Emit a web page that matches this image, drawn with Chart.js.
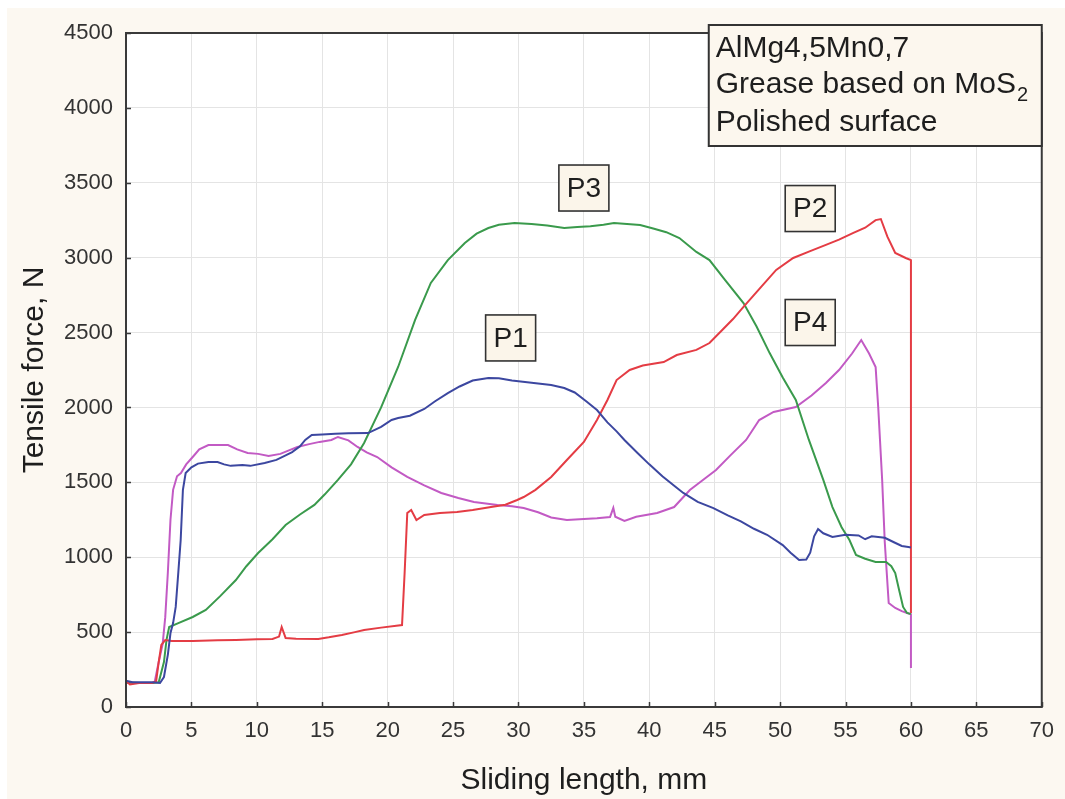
<!DOCTYPE html>
<html><head><meta charset="utf-8">
<script src="https://cdn.jsdelivr.net/npm/chart.js@4"></script>
<style>html,body{margin:0;padding:0;background:#fff;}canvas{display:block;}</style>
</head><body>
<canvas id="c" width="1065" height="799"></canvas>
<script>
// ---- data (Sliding length mm, Tensile force N) ----
const seriesNames = ["P1", "P2", "P3", "P4"];
const p1 = [[0,175],[0.5,165],[1,165],[2,165],[2.6,160],[2.9,200],[3.2,350],[3.4,494],[3.6,560],[3.8,668],[4.0,900],[4.18,1115],[4.35,1450],[4.56,1562],[5,1600],[5.5,1625],[6.3,1636],[7,1635],[7.5,1620],[8,1610],[8.9,1616],[9.5,1610],[10.6,1629],[11.5,1650],[12.2,1680],[12.7,1702],[13.3,1740],[13.7,1783],[14.2,1816],[15,1820],[16,1825],[17,1828],[18.5,1829],[19.5,1870],[20.3,1916],[20.8,1929],[21.7,1945],[22.8,1990],[23.6,2040],[24.6,2096],[25.5,2140],[26.5,2180],[27.7,2197],[28.5,2195],[29.5,2180],[30.5,2170],[31.5,2160],[32.5,2150],[33.5,2130],[34.3,2100],[35.2,2040],[36,1983],[36.8,1900],[37.5,1840],[38.1,1783],[39.1,1696],[40,1620],[41,1540],[42,1470],[42.6,1429],[43.7,1370],[44.9,1328],[46,1280],[47,1240],[48,1190],[49,1150],[50.2,1081],[50.8,1030],[51.45,981],[52,985],[52.3,1030],[52.6,1140],[52.9,1188],[53.3,1160],[54,1135],[55,1150],[56,1145],[56.5,1120],[57,1140],[58,1130],[58.7,1100],[59.3,1075],[59.8,1068],[60,1065]];
const p2 = [[0,175],[0.3,150],[1,160],[2,160],[2.3,170],[2.5,300],[2.7,414],[3.0,447],[3.5,440],[5.1,441],[7,445],[8.4,447],[10,452],[11.2,454],[11.7,470],[11.9,534],[12.2,461],[13,455],[14.7,454],[15.5,465],[16.5,481],[17.5,500],[18.2,514],[19.5,530],[21.1,547],[21.3,900],[21.5,1295],[21.8,1315],[22.2,1248],[22.8,1282],[24,1295],[25.3,1302],[26.5,1315],[27.9,1335],[29,1350],[29.9,1382],[30.4,1402],[31.3,1450],[32.5,1536],[33.7,1649],[35,1770],[36,1916],[36.8,2050],[37.5,2183],[38.5,2250],[39.5,2280],[41.1,2303],[42.1,2350],[43.6,2384],[44.6,2430],[45.5,2510],[46.4,2590],[47.2,2671],[48.5,2800],[49.7,2918],[51,2998],[52.2,3040],[53.5,3085],[54.5,3120],[55.6,3165],[56.5,3200],[57.3,3251],[57.7,3258],[58.2,3140],[58.8,3031],[59.6,2998],[60,2984],[60,628]];
const p3 = [[0,165],[1,160],[2,160],[2.5,165],[2.9,300],[3.1,450],[3.3,534],[4,560],[5.1,601],[6.1,648],[7.2,740],[8.4,848],[9.2,940],[10.1,1028],[11.2,1120],[12.2,1215],[13.3,1285],[14.4,1349],[15.2,1420],[16.2,1516],[17.2,1620],[18.2,1763],[19.5,2000],[20.8,2270],[22.1,2584],[23.3,2831],[24.6,2984],[25.9,3098],[26.8,3160],[27.7,3198],[28.5,3220],[29.7,3231],[31,3225],[32.2,3215],[33.5,3198],[34.5,3205],[35.5,3210],[36.5,3220],[37.3,3231],[38.3,3225],[39.3,3218],[40.3,3195],[41.3,3170],[42.3,3131],[43.6,3038],[44.6,2984],[45.8,2850],[47.2,2697],[48.2,2540],[49.2,2363],[50.2,2200],[51.2,2050],[52.2,1783],[53.3,1516],[54,1335],[54.7,1200],[55.3,1115],[55.8,1015],[56.5,990],[57.3,968],[58.1,968],[58.5,940],[58.8,894],[59.1,780],[59.4,668],[59.7,628],[60,620]];
const p4 = [[0,160],[1,160],[2,160],[2.2,170],[2.5,300],[2.8,420],[3.0,600],[3.2,900],[3.4,1250],[3.6,1450],[3.9,1540],[4.2,1562],[4.6,1620],[5.1,1669],[5.6,1720],[6.3,1749],[7,1750],[7.8,1749],[8.5,1720],[9.3,1696],[10.1,1690],[10.9,1676],[11.8,1690],[12.5,1715],[13.1,1736],[14,1755],[14.8,1770],[15.7,1783],[16.2,1803],[17,1780],[17.7,1736],[18.4,1700],[19.2,1669],[20.3,1600],[21.5,1536],[22.8,1480],[24.1,1429],[25.4,1395],[26.6,1369],[28.4,1349],[29.5,1340],[30.4,1328],[31.5,1300],[32.5,1265],[33.7,1248],[35,1255],[36,1260],[37,1268],[37.25,1330],[37.4,1270],[38.1,1242],[39,1270],[40.6,1295],[41.9,1335],[43.1,1449],[44.4,1536],[45.1,1582],[46.2,1680],[47.4,1783],[48.4,1916],[49.5,1970],[51.2,2003],[52.4,2080],[53.5,2163],[54.5,2250],[55.5,2360],[56.2,2450],[56.8,2360],[57.3,2270],[57.5,2000],[57.8,1516],[58.0,1100],[58.3,694],[58.8,661],[59.3,640],[59.7,628],[60,620],[60,260]];
const seriesData = [p1, p2, p3, p4];
const seriesColors = ["#3c47a0", "#e43c44", "#3a9a4c", "#c25ac4"];
// label anchors in data units (x mm, y N)
const labelPos = [[29.4,2464],[52.3,3328],[35.0,3465],[52.3,2567]];
const noteLines = ["AlMg4,5Mn0,7", "Grease based on MoS", "Polished surface"];
const noteSub = "2";
const xTitle = "Sliding length, mm";
const yTitle = "Tensile force, N";

const FONT = "'Liberation Sans', Arial, sans-serif";

const deco = {
  id: 'deco',
  beforeDraw(chart) {
    const {ctx, chartArea: a} = chart;
    ctx.save();
    ctx.fillStyle = '#ffffff';
    ctx.fillRect(0, 0, chart.width, chart.height);
    ctx.fillStyle = '#fcf8f1';
    ctx.fillRect(7, 8, chart.width - 7, chart.height - 8);
    ctx.fillStyle = '#ffffff';
    ctx.fillRect(a.left, a.top, a.right - a.left, a.bottom - a.top);
    ctx.restore();
  },
  afterDatasetsDraw(chart) {
    const {ctx, chartArea: a, scales} = chart;
    const xs = scales.x, ys = scales.y;
    ctx.save();
    // frame
    ctx.strokeStyle = '#3a3a3a';
    ctx.lineWidth = 2;
    ctx.strokeRect(a.left, a.top, a.right - a.left, a.bottom - a.top);
    // inward ticks
    ctx.lineWidth = 1.5;
    ctx.beginPath();
    xs.ticks.forEach(t => {
      const px = Math.round(xs.getPixelForValue(t.value)) + 0.5;
      ctx.moveTo(px, a.bottom); ctx.lineTo(px, a.bottom - 5);
    });
    ys.ticks.forEach(t => {
      const py = Math.round(ys.getPixelForValue(t.value)) + 0.5;
      ctx.moveTo(a.left, py); ctx.lineTo(a.left + 5, py);
    });
    ctx.stroke();
    // series labels
    ctx.font = '28px ' + FONT;
    ctx.textAlign = 'center';
    ctx.textBaseline = 'middle';
    seriesNames.forEach((n, i) => {
      const cx = xs.getPixelForValue(labelPos[i][0]);
      const cy = ys.getPixelForValue(labelPos[i][1]);
      const w = 50, h = 46;
      ctx.fillStyle = '#fbf5ea';
      ctx.fillRect(cx - w / 2, cy - h / 2, w, h);
      ctx.strokeStyle = '#333';
      ctx.lineWidth = 1.6;
      ctx.strokeRect(cx - w / 2, cy - h / 2, w, h);
      ctx.fillStyle = '#1e1e1e';
      ctx.fillText(n, cx, cy + 1);
    });
    // note box
    const bw = 333, bh = 121;
    const bx = a.right - bw, by = a.top - 8;
    ctx.fillStyle = '#fcf7ee';
    ctx.fillRect(bx, by, bw, bh);
    ctx.strokeStyle = '#333';
    ctx.lineWidth = 2;
    ctx.strokeRect(bx, by, bw, bh);
    ctx.fillStyle = '#1e1e1e';
    ctx.textAlign = 'left';
    ctx.textBaseline = 'alphabetic';
    ctx.font = '30px ' + FONT;
    const bases = [32, 68, 106];
    noteLines.forEach((s, i) => ctx.fillText(s, bx + 7, by + bases[i]));
    const w2 = ctx.measureText(noteLines[1]).width;
    ctx.font = '20px ' + FONT;
    ctx.fillText(noteSub, bx + 7 + w2 + 1, by + bases[1] + 8);
    ctx.restore();
  }
};

new Chart(document.getElementById('c'), {
  type: 'scatter',
  data: {
    datasets: seriesData.map((d, i) => ({
      label: seriesNames[i],
      data: d.map(p => ({x: p[0], y: p[1]})),
      showLine: true,
      borderColor: seriesColors[i],
      backgroundColor: seriesColors[i],
      borderWidth: 2,
      pointRadius: 0,
      tension: 0
    }))
  },
  options: {
    responsive: false,
    animation: false,
    devicePixelRatio: 1,
    layout: {padding: {left: 0, top: 33, right: 18, bottom: 0}},
    plugins: {legend: {display: false}, tooltip: {enabled: false}},
    scales: {
      x: {
        type: 'linear', min: 0, max: 70,
        ticks: {stepSize: 5, color: '#333', font: {family: FONT, size: 22}, padding: 11, maxRotation: 0,
                callback: v => String(v)},
        grid: {color: '#e4e4e4', lineWidth: 1, drawTicks: false},
        border: {display: false},
        title: {display: true, text: xTitle, color: '#1e1e1e', font: {family: FONT, size: 30}, padding: {top: 0, bottom: 0}},
        afterFit(s) { s.height = 92; }
      },
      y: {
        type: 'linear', min: 0, max: 4500,
        ticks: {stepSize: 500, color: '#333', font: {family: FONT, size: 22}, padding: 13,
                callback: v => String(v)},
        grid: {color: '#e4e4e4', lineWidth: 1, drawTicks: false},
        border: {display: false},
        title: {display: true, text: yTitle, color: '#1e1e1e', font: {family: FONT, size: 30}, padding: {top: 17, bottom: 0}},
        afterFit(s) { s.width = 126; }
      }
    }
  },
  plugins: [deco]
});
</script>
</body></html>
